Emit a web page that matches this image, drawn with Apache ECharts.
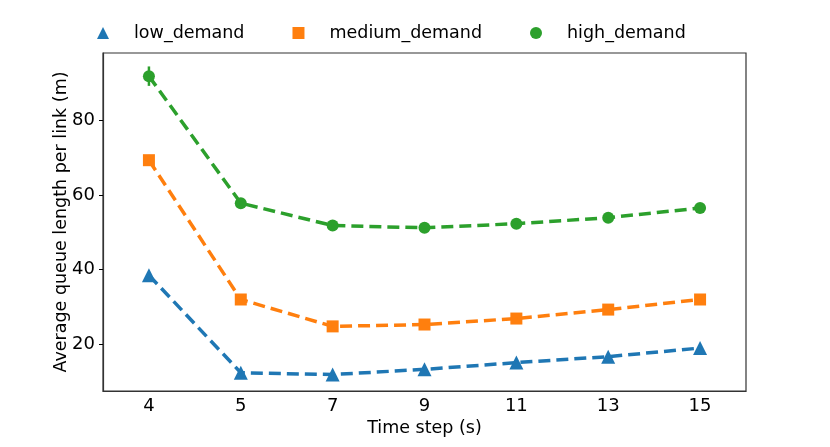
<!DOCTYPE html>
<html>
<head>
<meta charset="utf-8">
<script src="https://cdn.jsdelivr.net/npm/echarts@6/dist/echarts.min.js"></script>
<style>
html,body{margin:0;padding:0;background:#fff;}
#chart{width:830px;height:447px;}
</style>
</head>
<body>
<div id="chart"></div>
<script>
var timeSteps = ['4', '5', '7', '9', '11', '13', '15'];
var lowDemand = [38.5, 12.4, 11.9, 13.3, 15.1, 16.7, 19.0];
var mediumDemand = [69.3, 32.0, 24.8, 25.3, 26.9, 29.3, 32.0];
var highDemand = [91.8, 57.8, 51.8, 51.2, 52.3, 53.9, 56.5];
var lowErr = [0.6, 0.3, 0.2, 0.2, 0.2, 0.2, 0.2];
var mediumErr = [1.4, 0.4, 0.3, 0.3, 0.3, 0.3, 0.3];
var highErr = [2.6, 0.4, 0.3, 0.3, 0.3, 0.3, 0.3];
var yTicks = [20, 40, 60, 80];

var FONT = 'DejaVu Sans';
var colors = {low: '#1f77b4', medium: '#ff7f0e', high: '#2ca02c'};

function lineSeries(name, data, symbol, color){
	return {
		name: name,
		type: 'line',
		data: data,
		symbol: symbol,
		symbolSize: symbol == 'triangle' ? 14 : 12,
		showSymbol: true,
		z: 3,
		itemStyle: {color: color},
		lineStyle: {color: color, width: 3.5, type: [12, 6]},
		emphasis: {disabled: true}
	};
}

//误差线
function errSeries(name, data, err, color){
	var rows = [];
	for (var i = 0; i < data.length; i++) rows.push([i, data[i] - err[i], data[i] + err[i]]);
	return {
		name: name + '_err',
		type: 'custom',
		z: 4,
		silent: true,
		data: rows,
		renderItem: function(params, api){
			var lo = api.coord([api.value(0), api.value(1)]);
			var hi = api.coord([api.value(0), api.value(2)]);
			return {
				type: 'line',
				shape: {x1: lo[0], y1: lo[1], x2: hi[0], y2: hi[1]},
				style: {stroke: color, lineWidth: 2.5}
			};
		}
	};
}

var option = {
	backgroundColor: '#fff',
	animation: false,
	textStyle: {fontFamily: FONT},
	legend: {
		top: 19,
		left: 92,
		itemWidth: 12,
		itemHeight: 12,
		itemGap: 48,
		textStyle: {fontFamily: FONT, fontSize: 17.5, color: '#000', padding: [0, 0, 0, 20]},
		data: [
			{name: 'low_demand', icon: 'triangle'},
			{name: 'medium_demand', icon: 'rect'},
			{name: 'high_demand', icon: 'circle'}
		]
	},
	grid: {
		left: 103, right: 84, top: 53, bottom: 56,
		show: true, borderColor: '#333', borderWidth: 1.2,
		containLabel: false
	},
	xAxis: {
		type: 'category',
		data: timeSteps,
		boundaryGap: true,
		name: 'Time step (s)',
		nameLocation: 'middle',
		nameGap: 28,
		nameMoveOverlap: false,
		nameTextStyle: {fontFamily: FONT, fontSize: 17.5, color: '#000'},
		axisLine: {lineStyle: {color: '#333', width: 1.2}},
		axisTick: {alignWithLabel: true, length: 4, lineStyle: {color: '#000'}},
		axisLabel: {fontFamily: FONT, fontSize: 18, color: '#000', margin: 6},
		splitLine: {show: false}
	},
	yAxis: {
		type: 'value',
		min: 7.5,
		max: 98,
		name: 'Average queue length per link (m)',
		nameLocation: 'middle',
		nameGap: 33,
		nameMoveOverlap: false,
		nameTextStyle: {fontFamily: FONT, fontSize: 17.5, color: '#000'},
		axisLine: {show: true, lineStyle: {color: '#333', width: 1.2}},
		axisTick: {show: true, length: 4, customValues: yTicks, lineStyle: {color: '#000'}},
		axisLabel: {fontFamily: FONT, fontSize: 18, color: '#000', margin: 8, customValues: yTicks},
		splitLine: {show: false}
	},
	series: [
		lineSeries('low_demand', lowDemand, 'triangle', colors.low),
		lineSeries('medium_demand', mediumDemand, 'rect', colors.medium),
		lineSeries('high_demand', highDemand, 'circle', colors.high),
		errSeries('low_demand', lowDemand, lowErr, colors.low),
		errSeries('medium_demand', mediumDemand, mediumErr, colors.medium),
		errSeries('high_demand', highDemand, highErr, colors.high)
	]
};

var myEcharts = echarts.init(document.getElementById('chart'));
myEcharts.setOption(option);
</script>
</body>
</html>
